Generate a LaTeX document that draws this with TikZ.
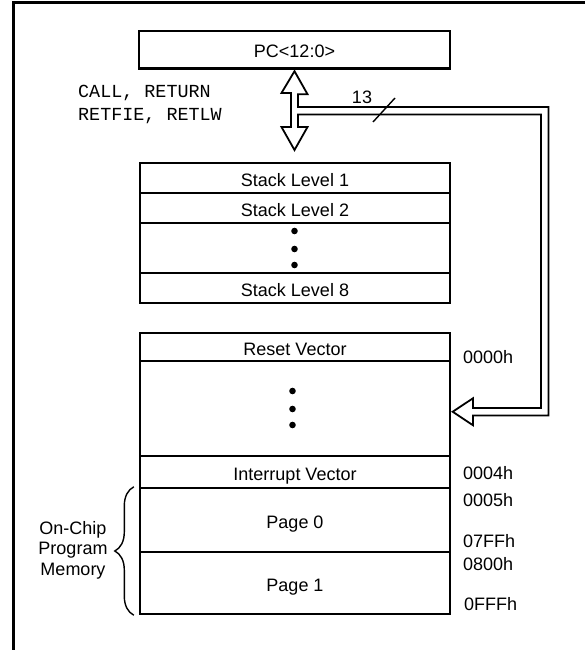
\documentclass[tikz,border=0pt]{standalone}
\usepackage{fontspec}
\setmainfont{Liberation Sans}
\newfontfamily\codefont{Liberation Mono}
\usetikzlibrary{calc,decorations.pathreplacing}
\tikzset{
    frame/.style={black,line width=3pt},
    cell/.style={draw,line width=2.4pt,minimum width=310pt,inner sep=0pt,text height=16.4pt,text depth=0pt},
    hollow/.style={draw,line width=1.8pt,line join=miter,fill=white},
    tick/.style={line width=1.4pt},
    addr/.style={anchor=west,inner sep=0pt},
    membrace/.style={line width=1.4pt,decorate,decoration={brace,amplitude=19pt}}
}
\begin{document}
\begin{tikzpicture}[x=1pt,y=-1pt,font=\fontsize{18}{21.6}\selectfont]
\useasboundingbox (0,0) rectangle (585,650);
\draw[frame](590,3)--(13,3)--(13,655);

% program counter
\node[cell,minimum width=311pt,minimum height=37.5pt] (pc) at (294.5,49.75) {PC<12:0>};
\node[anchor=base west,inner sep=0pt,font=\codefont\fontsize{18.4}{22}\selectfont] (callret) at (78,97.3) {CALL, RETURN};
\node[anchor=base west,inner sep=0pt,font=\codefont\fontsize{18.4}{22}\selectfont] (retfie) at (78,120.7) {RETFIE, RETLW};

% stack
\node[cell,minimum height=30pt] (stack1) at (295,178) {Stack Level 1};
\node[cell,minimum height=30pt] (stack2) at (295,208) {Stack Level 2};
\node[cell,minimum height=50pt] (stackdots) at (295,248) {};
\node[cell,minimum height=30pt] (stack8) at (295,288) {Stack Level 8};
\foreach \dy in {-17,1,17}
    \fill ($(stackdots.center)+(-0.5,\dy)$) circle (3.3pt);

% program memory
\node[cell,minimum height=28pt] (reset) at (295,347) {Reset Vector};
\node[cell,minimum height=95pt] (memdots) at (295,408.5) {};
\node[cell,minimum height=32pt] (intvec) at (295,472) {Interrupt Vector};
\node[cell,minimum height=64pt] (page0) at (295,520) {Page 0};
\node[cell,minimum height=62pt] (page1) at (295,583) {Page 1};
\foreach \dy in {-17.5,0.5,16.5}
    \fill ($(memdots.center)+(-2.5,\dy)$) circle (3.3pt);

\node[addr] (a0000) at (463,357) {0000h};
\node[addr] (a0004) at (463,473) {0004h};
\node[addr] (a0005) at (463,500) {0005h};
\node[addr] (a07ff) at (463,541) {07FFh};
\node[addr] (a0800) at (463,564) {0800h};
\node[addr] (a0fff) at (464,604.5) {0FFFh};

\draw[membrace]($(page1.south west)+(-5,0)$)--($(page0.north west)+(-5,0)$);
\node[align=center,inner sep=0pt,font=\fontsize{18}{20.5}\selectfont] (onchip) at (73,550) {On-Chip\\Program\\Memory};

% stack / pc bus
\coordinate (uptip) at ($(pc.south)+(0,1.5)$);
\coordinate (memtip) at ($(memdots.east)+(1.5,3.25)$);
\draw[hollow](uptip)--++(13,23)--++(-9.5,0)--(298,107)--(548.5,107)--(548.5,415.5)
    --(473,415.5)--(473,425.25)--(memtip)--(473,398.25)--(473,408)--(541,408)
    --(541,114.5)--(298,114.5)--(298,127)--(307.5,127)--(294.5,150)--(281.5,127)
    --(291,127)--(291,93)--(281.5,93)--cycle;
\node (buswidth) at (362,97) {13};
\draw[tick]($(buswidth)+(11,25)$)--++(22,-24);
\end{tikzpicture}
\end{document}
